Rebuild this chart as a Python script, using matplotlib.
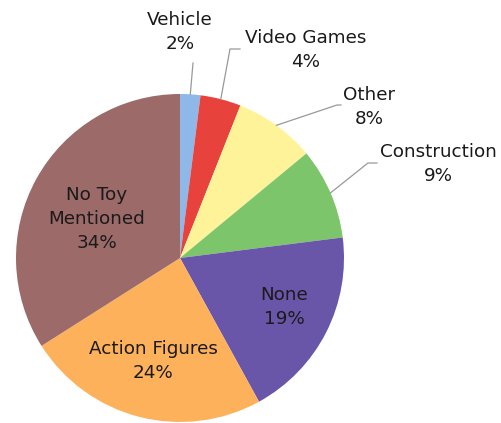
import matplotlib.pyplot as plt
import numpy as np

# Slice data, clockwise from 12 o'clock
labels = ['Vehicle', 'Video Games', 'Other', 'Construction', 'None', 'Action Figures', 'No Toy\nMentioned']
values = [2, 4, 8, 9, 19, 24, 34]
colors = ['#8DB8E8', '#E8423D', '#FFF39A', '#7CC56A', '#6A56A8', '#FDB15B', '#9B6A69']

W, H = 501, 423
fig = plt.figure(figsize=(W / 100, H / 100), dpi=100)
ax = fig.add_axes([0, 0, 1, 1])

cx, cy, r = 180, H - 258, 164
wedges, _ = ax.pie(values, colors=colors, startangle=90, counterclock=False,
                   center=(cx, cy), radius=r, wedgeprops=dict(linewidth=0))

ax.set_xlim(0, W)
ax.set_ylim(0, H)
ax.set_aspect('equal')
ax.axis('off')

font = dict(fontsize=13.2, color='#1a1a1a', ha='center', va='center', linespacing=1.45)

# label positions (pixel coords from top) and leader line elbows
outside = {
    0: ((180, 32), [(193, 63)]),
    1: ((306, 50), [(230, 49), (240, 49)]),
    2: ((369, 107), [(337, 105), (341, 105)]),
    3: ((438, 164), [(368, 163), (377, 163)]),
}
inside = {4: (284, 307), 5: (153, 361), 6: (97, 219)}

for i, w in enumerate(wedges):
    txt = f'{labels[i]}\n{values[i]}%'
    if i in outside:
        (tx, ty), elbow = outside[i]
        ang = np.deg2rad((w.theta1 + w.theta2) / 2)
        xs = [cx + r * np.cos(ang)] + [p[0] for p in elbow]
        ys = [cy + r * np.sin(ang)] + [H - p[1] for p in elbow]
        ax.plot(xs, ys, color='#999999', linewidth=0.9)
        ax.text(tx, H - ty, txt, **font)
    else:
        tx, ty = inside[i]
        ax.text(tx, H - ty, txt, **font)

fig.savefig('out.png', dpi=100)
